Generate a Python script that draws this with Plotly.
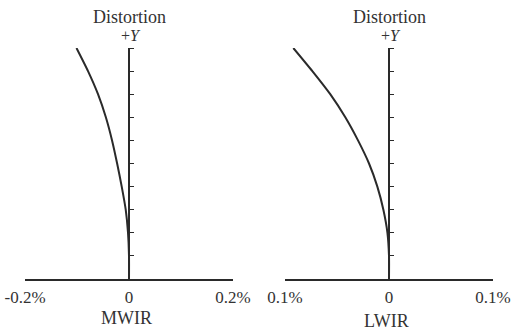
import plotly.graph_objects as go

# normalized field (+Y) positions
field = [0.0, 0.1, 0.2, 0.3, 0.4, 0.5, 0.6, 0.7, 0.8, 0.9, 1.0]
# distortion values in %
mwir_dist = [0.0, 0.0, -0.0019, -0.0063, -0.0140, -0.0228, -0.0326, -0.0445, -0.0596, -0.0788, -0.101]
lwir_dist = [0.0, 0.0, -0.0015, -0.0054, -0.0112, -0.0192, -0.0298, -0.0420, -0.0565, -0.0737, -0.092]

mwir_ticks = [-0.2, 0, 0.2]
mwir_ticktext = ["-0.2%", "0", "0.2%"]
lwir_ticks = [-0.1, 0, 0.1]
lwir_ticktext = ["0.1%", "0", "0.1%"]
field_ticks = [0.0, 0.1, 0.2, 0.3, 0.4, 0.5, 0.6, 0.7, 0.8, 0.9, 1.0]

W, H = 513, 331
FONT = "Liberation Serif"
INK = "#2a2a2a"
TXT = "#333333"

x1 = [25 / W, 233 / W]
x2 = [285 / W, 493 / W]
ydom = [(H - 279) / H, (H - 48) / H]

fig = go.Figure()
fig.add_trace(go.Scatter(x=mwir_dist, y=field, mode="lines",
                         line=dict(color=INK, width=2, shape="spline", smoothing=0.6),
                         xaxis="x", yaxis="y", showlegend=False))
fig.add_trace(go.Scatter(x=lwir_dist, y=field, mode="lines",
                         line=dict(color=INK, width=2, shape="spline", smoothing=0.6),
                         xaxis="x2", yaxis="y2", showlegend=False))

def xax(dom, rng, tv, tt):
    return dict(domain=dom, range=rng, tickvals=tv, ticktext=tt, showline=True, linecolor=INK, linewidth=1.5,
                ticks="inside", ticklen=4, tickwidth=1.2, tickcolor=INK, showgrid=False, zeroline=False,
                tickfont=dict(family=FONT, size=17, color=TXT), ticklabelstandoff=2, fixedrange=True,
                automargin=False)

def yax(pos):
    return dict(domain=ydom, range=[0, 1], tickvals=field_ticks, showticklabels=False, side="right",
                anchor="free", position=pos, showline=True, linecolor=INK, linewidth=1.5,
                ticks="outside", ticklen=4, tickwidth=1, tickcolor=INK, showgrid=False, zeroline=False,
                fixedrange=True, automargin=False)

fig.update_layout(
    width=W, height=H, margin=dict(l=0, r=0, t=0, b=0, autoexpand=False),
    paper_bgcolor="white", plot_bgcolor="rgba(0,0,0,0)",
    xaxis=xax(x1, [-0.2, 0.2], mwir_ticks, mwir_ticktext),
    xaxis2=xax(x2, [-0.1, 0.1], lwir_ticks, lwir_ticktext),
    yaxis=yax((x1[0] + x1[1]) / 2),
    yaxis2=yax((x2[0] + x2[1]) / 2),
)

ann = []
for cx, name, ny in [((x1[0] + x1[1]) / 2, "MWIR", 318), ((x2[0] + x2[1]) / 2, "LWIR", 321)]:
    ann.append(dict(x=cx, y=1 - 17 / H, xref="paper", yref="paper", text="Distortion", showarrow=False,
                    font=dict(family=FONT, size=18, color=TXT), xanchor="center", yanchor="middle"))
    ann.append(dict(x=cx + 2 / W, y=1 - 36 / H, xref="paper", yref="paper", text="+<i>Y</i>", showarrow=False,
                    font=dict(family=FONT, size=16, color=TXT), xanchor="center", yanchor="middle"))
    ann.append(dict(x=cx - 3 / W, y=1 - ny / H, xref="paper", yref="paper", text=name, showarrow=False,
                    font=dict(family=FONT, size=18, color=TXT), xanchor="center", yanchor="middle"))
fig.update_layout(annotations=ann)

fig.write_html("out.html", config={"displayModeBar": False},
               post_script="document.body.style.margin='0px';document.body.style.overflow='hidden';")
